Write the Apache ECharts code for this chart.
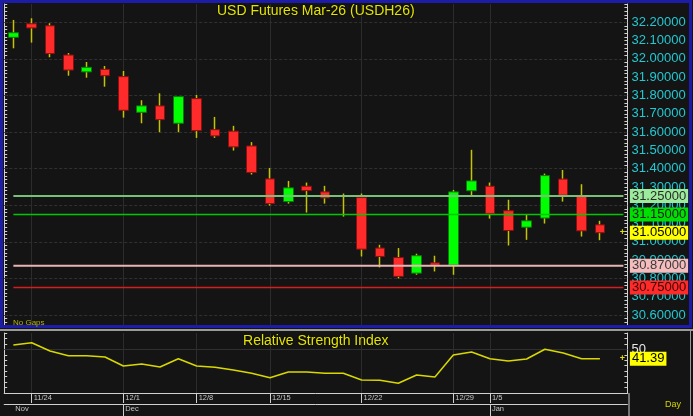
<!DOCTYPE html>
<html><head><meta charset="utf-8">
<script src="https://cdn.jsdelivr.net/npm/echarts@6/dist/echarts.min.js"></script>
<style>html,body{margin:0;padding:0;background:#141414;}#c{width:693px;height:416px;}</style>
</head><body><div id="c"></div>
<script>
// ---- data ----
const dates = ['11/21','11/24','11/25','11/26','11/27','11/28','12/1','12/2','12/3','12/4','12/8','12/9','12/10','12/11','12/15','12/16','12/17','12/18','12/19','12/22','12/23','12/24','12/25','12/26','12/29','12/30','1/5','1/6','1/7','1/8','1/9','1/12','1/13',''];
const opens  = [32.118,32.192,32.181,32.021,31.929,31.943,31.903,31.708,31.743,31.648,31.783,31.613,31.605,31.524,31.344,31.220,31.304,31.273,31.252,31.242,30.966,30.914,30.829,30.885,30.873,31.279,31.304,31.170,31.080,31.130,31.343,31.250,31.093];
const closes = [32.143,32.169,32.029,31.939,31.954,31.908,31.719,31.743,31.668,31.794,31.608,31.579,31.519,31.379,31.209,31.295,31.280,31.240,31.248,30.960,30.920,30.811,30.924,30.873,31.273,31.333,31.155,31.062,31.115,31.362,31.255,31.060,31.050];
const lows   = [32.058,32.089,32.009,31.908,31.897,31.848,31.679,31.648,31.599,31.599,31.568,31.568,31.499,31.368,31.198,31.209,31.160,31.209,31.138,30.920,30.860,30.800,30.820,30.838,30.820,31.253,31.127,30.980,31.011,31.100,31.220,31.029,31.009];
const highs  = [32.213,32.222,32.195,32.032,31.983,31.961,31.934,31.774,31.812,31.794,31.803,31.683,31.634,31.545,31.404,31.333,31.324,31.306,31.264,31.264,30.984,30.966,30.935,30.924,31.284,31.503,31.324,31.230,31.151,31.373,31.393,31.315,31.115];
const rsi    = [54.0,56.1,48.5,44.2,44.2,43.0,34.75,36.6,33.8,41.4,34.75,33.6,31.1,28.1,24.0,29.25,29.25,28.1,28.1,21.9,21.6,18.9,26.5,24.7,44.8,47.6,41.4,39.3,41.2,50.1,46.7,41.4,41.39];
const levels = [31.25, 31.15, 30.87, 30.75];
const weekStarts = ['11/24','12/1','12/8','12/15','12/22','12/29','1/5'];
const monthCats  = ['11/21','12/1','1/5'];
const monthNames = ['Nov','Dec','Jan'];
const gridLevels = [30.6,30.8,31.0,31.2,31.4,31.6,31.8,32.0,32.2];
const priceLabelRange = [30.6, 32.2];
const rsiGridLevels = [50];
const rsiLabels = [50];
const titleText = 'USD Futures Mar-26 (USDH26)';
const rsiTitle = 'Relative Strength Index';

// ---- styles ----
const levelStyles = [
  {line:'#78c078', lw:2, bg:'#9ceb9c', text:'#2a2a2a'},
  {line:'#00c800', lw:1.5, bg:'#00e000', text:'#1a1a1a'},
  {line:'#e8b4b4', lw:2, bg:'#f4bcbc', text:'#3a3a3a'},
  {line:'#d02020', lw:1.5, bg:'#ff2a2a', text:'#3a0000'}
];
const FONT = '"Liberation Sans", Arial, sans-serif';
const AX = '#d0d0d0';
const WICK = '#c4c400';

const chart = echarts.init(document.getElementById('c'), null, {renderer:'canvas'});
const n = opens.length;
const isTenth = v => Math.abs(v*10 - Math.round(v*10)) < 1e-4;
const inRange = v => v >= priceLabelRange[0]-1e-6 && v <= priceLabelRange[1]+1e-6;

const boxText = (x, y, txt, bg, fg) => ({type:'text', x:x, y:y, style:{text:txt, fill:fg, backgroundColor:bg, padding:[1,2,0,2], font:'13px '+FONT, align:'left', verticalAlign:'middle'}});

const option = {
  backgroundColor:'#141414',
  animation:false,
  grid:[
    {left:4.2, top:4, width:623.2, height:322},
    {left:4.2, top:333, width:623.2, height:60}
  ],
  xAxis:[
    {gridIndex:0, type:'category', data:dates, boundaryGap:true, axisLine:{show:false}, axisTick:{show:false}, axisLabel:{show:false}, splitLine:{show:false}},
    {gridIndex:1, type:'category', data:dates, boundaryGap:true,
      axisLine:{show:true, lineStyle:{color:AX, width:1}},
      axisTick:{show:true, alignWithLabel:true, length:10, interval:(i,v)=>weekStarts.includes(v), lineStyle:{color:AX}},
      axisLabel:{show:true, interval:(i,v)=>weekStarts.includes(v), align:'left', margin:1, padding:[0,0,0,2], color:'#c8c8c8', fontSize:7.5, fontFamily:FONT},
      splitLine:{show:false}},
    {gridIndex:1, type:'category', data:dates, boundaryGap:true, position:'bottom', offset:11,
      axisLine:{show:true, lineStyle:{color:AX, width:1}},
      axisTick:{show:true, alignWithLabel:true, length:12, interval:(i,v)=>monthCats.includes(v) && i>0, lineStyle:{color:AX}},
      axisLabel:{show:true, interval:(i,v)=>monthCats.includes(v), align:'left', margin:1, padding:[0,0,0,2], color:'#c8c8c8', fontSize:7.5, fontFamily:FONT,
        formatter:v=>monthNames[monthCats.indexOf(v)] || ''},
      splitLine:{show:false}}
  ],
  yAxis:[
    {gridIndex:0, type:'value', position:'right', min:30.54, max:32.30, interval:0.02,
      axisLine:{show:true, lineStyle:{color:AX}}, axisTick:{show:true, inside:true, length:3, lineStyle:{color:AX}},
      axisLabel:{show:true, margin:4, color:'#22c8d2', fontSize:13, fontFamily:FONT, formatter:v=>(isTenth(v)&&inRange(v))?v.toFixed(5):''},
      splitLine:{show:false}},
    {gridIndex:0, type:'value', position:'left', offset:0, min:30.54, max:32.30, interval:0.02,
      axisLine:{show:true, lineStyle:{color:AX}}, axisTick:{show:true, inside:true, length:3, lineStyle:{color:AX}},
      axisLabel:{show:false}, splitLine:{show:false}},
    {gridIndex:1, type:'value', position:'right', min:10, max:65, interval:5,
      axisLine:{show:true, lineStyle:{color:AX}}, axisTick:{show:true, inside:true, length:3, lineStyle:{color:AX}},
      axisLabel:{show:true, margin:4, color:'#e8e8e8', fontSize:13, fontFamily:FONT, formatter:v=>rsiLabels.includes(Math.round(v))?String(Math.round(v)):''},
      splitLine:{show:false}},
    {gridIndex:1, type:'value', position:'left', offset:0, min:10, max:65, interval:5,
      axisLine:{show:true, lineStyle:{color:AX}}, axisTick:{show:true, inside:true, length:3, lineStyle:{color:AX}},
      axisLabel:{show:false}, splitLine:{show:false}}
  ],
  series:[
    { // wicks
      type:'candlestick', xAxisIndex:0, yAxisIndex:0, barWidth:1, silent:true, z:2,
      data: opens.map((o,i)=>[o, closes[i], lows[i], highs[i]]),
      itemStyle:{color:WICK, color0:WICK, borderColor:WICK, borderColor0:WICK, borderWidth:1.5},
      markLine:{silent:true, z:1, symbol:'none', label:{show:false},
        data:[
          ...gridLevels.map(v=>({yAxis:v, lineStyle:{color:'#303030', width:1, type:[3,2]}})),
          ...weekStarts.map(d=>({xAxis:d, lineStyle:{color:'#2c2c2c', width:1, type:'solid'}}))
        ]}
    },
    { // bodies
      type:'candlestick', xAxisIndex:0, yAxisIndex:0, barWidth:10, silent:true, z:3,
      data: opens.map((o,i)=>[o, closes[i], Math.min(o,closes[i]), Math.max(o,closes[i])]),
      itemStyle:{color:'#00ff00', color0:'#ff2a2a', borderColor:'#0b7a0b', borderColor0:'#8a1010', borderWidth:1}
    },
    { // level lines + boxes
      type:'custom', xAxisIndex:0, yAxisIndex:0, z:5, clip:false, silent:true,
      data: levels.map(v=>[0, v]), encode:{x:0, y:1},
      renderItem:(params, api)=>{
        const st = levelStyles[params.dataIndex];
        const v = api.value(1);
        const p = api.coord([api.value(0), v]);
        const cs = params.coordSys;
        const right = cs.x + cs.width;
        return {type:'group', children:[
          {type:'line', shape:{x1:p[0], y1:p[1], x2:right-4, y2:p[1]}, style:{stroke:st.line, lineWidth:st.lw}},
          boxText(right+2.5, p[1], v.toFixed(5), st.bg, st.text)
        ]};
      }
    },
    { // last price
      type:'custom', xAxisIndex:0, yAxisIndex:0, z:6, clip:false, silent:true,
      data: [[n-1, closes[n-1]]], encode:{x:0, y:1},
      renderItem:(params, api)=>{
        const v = api.value(1);
        const p = api.coord([api.value(0), v]);
        const cs = params.coordSys;
        const right = cs.x + cs.width;
        return {type:'group', children:[
          {type:'text', x:right-5, y:p[1], style:{text:'+', fill:'#e0e000', font:'bold 9px '+FONT, align:'center', verticalAlign:'middle'}},
          boxText(right+2.5, p[1], v.toFixed(5), '#ffff00', '#000000')
        ]};
      }
    },
    { // RSI line
      type:'line', xAxisIndex:1, yAxisIndex:2, data:rsi, symbol:'none', silent:true, z:3,
      lineStyle:{color:'#d8d800', width:1.5},
      markLine:{silent:true, z:1, symbol:'none', label:{show:false},
        data:[
          ...rsiGridLevels.map(v=>({yAxis:v, lineStyle:{color:'#303030', width:1, type:'solid'}})),
          ...weekStarts.map(d=>({xAxis:d, lineStyle:{color:'#2c2c2c', width:1, type:'solid'}}))
        ]}
    },
    { // RSI last value
      type:'custom', xAxisIndex:1, yAxisIndex:2, z:6, clip:false, silent:true,
      data: [[n-1, rsi[n-1]]], encode:{x:0, y:1},
      renderItem:(params, api)=>{
        const v = api.value(1);
        const p = api.coord([api.value(0), v]);
        const cs = params.coordSys;
        const right = cs.x + cs.width;
        return {type:'group', children:[
          {type:'text', x:right-5, y:p[1], style:{text:'+', fill:'#e0e000', font:'bold 9px '+FONT, align:'center', verticalAlign:'middle'}},
          boxText(right+2.5, p[1], v.toFixed(2), '#ffff00', '#000000')
        ]};
      }
    }
  ],
  graphic:[
    {type:'rect', z:100, silent:true, shape:{x:1.5, y:1.5, width:689, height:325}, style:{fill:'none', stroke:'#1c1ca8', lineWidth:3}},
    {type:'line', z:100, silent:true, shape:{x1:0, y1:330, x2:693, y2:330}, style:{stroke:'#c8c8c8', lineWidth:1.5}},
    {type:'line', z:100, silent:true, shape:{x1:629, y1:393, x2:629, y2:416}, style:{stroke:AX, lineWidth:1}},
    {type:'line', z:100, silent:true, shape:{x1:690.5, y1:330, x2:690.5, y2:416}, style:{stroke:'#9a9a9a', lineWidth:1}},
    {type:'text', z:100, silent:true, x:315.8, y:11, style:{text:titleText, fill:'#e4e400', font:'14px '+FONT, align:'center', verticalAlign:'middle', textShadowColor:'#000', textShadowBlur:2}},
    {type:'text', z:100, silent:true, x:315.8, y:341, style:{text:rsiTitle, fill:'#e4e400', font:'14px '+FONT, align:'center', verticalAlign:'middle', textShadowColor:'#000', textShadowBlur:2}},
    {type:'text', z:100, silent:true, x:13, y:322.5, style:{text:'No Gaps', fill:'#b4b400', font:'8px '+FONT, align:'left', verticalAlign:'middle'}},
    {type:'text', z:100, silent:true, x:665, y:405, style:{text:'Day', fill:'#d4d400', font:'9px '+FONT, align:'left', verticalAlign:'middle'}}
  ]
};
chart.setOption(option);
</script>
</body></html>
